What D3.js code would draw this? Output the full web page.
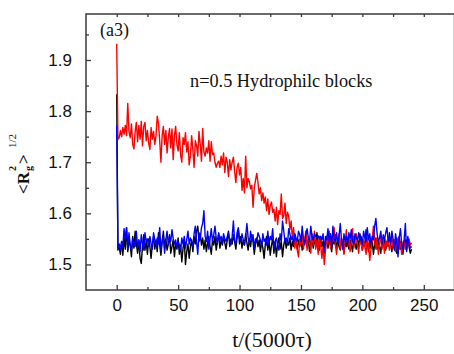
<!DOCTYPE html>
<html>
<head>
<meta charset="utf-8">
<script src="https://cdn.jsdelivr.net/npm/d3@7"></script>
<style>
  html, body { margin: 0; padding: 0; background: #fff; }
  svg { display: block; }
</style>
</head>
<body>
<svg id="chart" width="454" height="354"></svg>
<script>
// ---------- data (t = index, step 1 in units of 5000 tau) ----------
const xTicks = [0, 50, 100, 150, 200, 250];
const yTicks = [1.5, 1.6, 1.7, 1.8, 1.9];
const seriesNames = ["black", "red", "blue"];

const blackValues = [
1.833,1.528,1.535,1.520,1.545,1.518,1.552,1.530,1.572,1.525,
1.548,1.538,1.515,1.555,1.532,1.565,1.540,1.522,1.548,1.512,
1.502,1.535,1.558,1.528,1.545,1.520,1.550,1.535,1.512,1.540,
1.555,1.530,1.548,1.525,1.562,1.538,1.518,1.545,1.565,1.532,
1.550,1.528,1.540,1.558,1.522,1.535,1.548,1.515,1.542,1.530,
1.552,1.520,1.538,1.505,1.532,1.548,1.500,1.525,1.540,1.512,
1.535,1.548,1.525,1.555,1.540,1.565,1.575,1.545,1.560,1.538,
1.552,1.530,1.548,1.525,1.542,1.555,1.535,1.520,1.548,1.538,
1.555,1.528,1.545,1.560,1.532,1.548,1.538,1.555,1.542,1.530,
1.548,1.565,1.535,1.550,1.540,1.558,1.545,1.530,1.552,1.568,
1.540,1.555,1.532,1.548,1.538,1.560,1.542,1.528,1.550,1.535,
1.558,1.545,1.520,1.540,1.552,1.535,1.548,1.525,1.545,1.532,
1.512,1.540,1.555,1.528,1.545,1.518,1.538,1.550,1.522,1.545,
1.515,1.540,1.552,1.530,1.545,1.515,1.538,1.550,1.532,1.545,
1.538,1.552,1.528,1.545,1.535,1.558,1.540,1.530,1.548,1.535,
1.550,1.528,1.545,1.538,1.560,1.535,1.548,1.525,1.542,1.555,
1.532,1.548,1.538,1.562,1.540,1.528,1.550,1.535,1.545,1.522,
1.540,1.555,1.532,1.548,1.538,1.525,1.550,1.540,1.558,1.530,
1.545,1.535,1.528,1.550,1.540,1.522,1.545,1.535,1.552,1.530,
1.548,1.538,1.525,1.555,1.540,1.530,1.548,1.535,1.560,1.542,
1.528,1.545,1.535,1.568,1.540,1.525,1.548,1.532,1.545,1.520,
1.540,1.552,1.530,1.545,1.535,1.522,1.548,1.538,1.552,1.528,
1.545,1.535,1.562,1.540,1.525,1.548,1.535,1.545,1.522,1.540,
1.555,1.530,1.545,1.520,1.538,1.548,1.528,1.545,1.535,1.522,
1.530];

const redValues = [
1.932,1.745,1.748,1.762,1.750,1.768,1.755,1.772,1.752,1.815,
1.760,1.748,1.775,1.735,1.726,1.760,1.778,1.740,1.772,1.745,
1.780,1.732,1.770,1.778,1.742,1.762,1.738,1.725,1.768,1.745,
1.760,1.735,1.752,1.790,1.776,1.742,1.700,1.752,1.770,1.735,
1.762,1.718,1.748,1.766,1.728,1.765,1.705,1.752,1.770,1.735,
1.722,1.758,1.715,1.700,1.748,1.735,1.758,1.720,1.740,1.695,
1.712,1.752,1.725,1.690,1.742,1.732,1.712,1.760,1.735,1.702,
1.766,1.720,1.712,1.728,1.718,1.742,1.702,1.740,1.715,1.718,
1.700,1.690,1.698,1.702,1.690,1.712,1.695,1.718,1.680,1.710,
1.700,1.672,1.705,1.685,1.700,1.710,1.682,1.660,1.690,1.698,
1.675,1.690,1.645,1.668,1.640,1.712,1.650,1.668,1.662,1.648,
1.655,1.612,1.650,1.665,1.678,1.660,1.638,1.650,1.625,1.640,
1.620,1.632,1.605,1.628,1.598,1.615,1.622,1.602,1.608,1.585,
1.612,1.578,1.605,1.598,1.638,1.590,1.595,1.620,1.580,1.602,
1.595,1.568,1.585,1.550,1.572,1.532,1.548,1.528,1.515,1.550,
1.538,1.562,1.530,1.548,1.565,1.528,1.555,1.545,1.522,1.560,
1.538,1.565,1.530,1.548,1.520,1.555,1.540,1.512,1.535,1.500,
1.528,1.548,1.540,1.565,1.532,1.555,1.545,1.572,1.538,1.520,
1.548,1.560,1.530,1.552,1.540,1.520,1.545,1.568,1.535,1.550,
1.525,1.548,1.570,1.532,1.545,1.560,1.538,1.522,1.552,1.540,
1.528,1.548,1.535,1.520,1.552,1.538,1.508,1.530,1.548,1.575,
1.545,1.530,1.552,1.520,1.540,1.555,1.530,1.545,1.522,1.548,
1.535,1.550,1.528,1.540,1.555,1.532,1.548,1.525,1.540,1.552,
1.530,1.545,1.520,1.538,1.548,1.530,1.545,1.535,1.550,1.538,
1.542];

const blueValues = [
1.772,1.532,1.540,1.528,1.545,1.535,1.570,1.548,1.572,1.530,
1.562,1.538,1.528,1.550,1.545,1.535,1.565,1.532,1.548,1.525,
1.558,1.540,1.528,1.562,1.545,1.550,1.535,1.555,1.540,1.530,
1.562,1.548,1.535,1.552,1.540,1.572,1.528,1.545,1.555,1.522,
1.548,1.565,1.538,1.555,1.545,1.568,1.550,1.540,1.548,1.532,
1.545,1.538,1.528,1.552,1.540,1.555,1.532,1.548,1.565,1.540,
1.552,1.545,1.535,1.560,1.575,1.545,1.520,1.562,1.550,1.572,
1.580,1.605,1.555,1.545,1.565,1.530,1.550,1.570,1.545,1.558,
1.575,1.552,1.540,1.562,1.548,1.555,1.540,1.560,1.550,1.545,
1.555,1.562,1.548,1.538,1.555,1.585,1.545,1.540,1.562,1.572,
1.550,1.545,1.560,1.548,1.538,1.555,1.580,1.552,1.540,1.565,
1.545,1.558,1.530,1.550,1.545,1.562,1.555,1.548,1.535,1.560,
1.545,1.550,1.538,1.565,1.540,1.555,1.548,1.570,1.530,1.545,
1.552,1.538,1.528,1.560,1.545,1.585,1.565,1.545,1.552,1.538,
1.570,1.560,1.548,1.555,1.540,1.560,1.552,1.545,1.565,1.558,
1.545,1.575,1.550,1.540,1.560,1.570,1.552,1.545,1.575,1.555,
1.548,1.560,1.555,1.552,1.556,1.550,1.555,1.548,1.560,1.525,
1.555,1.548,1.570,1.545,1.560,1.535,1.575,1.550,1.545,1.562,
1.540,1.555,1.580,1.548,1.530,1.560,1.545,1.555,1.538,1.562,
1.550,1.568,1.545,1.540,1.560,1.552,1.548,1.562,1.545,1.555,
1.540,1.565,1.552,1.545,1.572,1.548,1.560,1.540,1.555,1.548,
1.575,1.590,1.560,1.545,1.552,1.565,1.540,1.558,1.548,1.562,
1.572,1.545,1.555,1.540,1.565,1.550,1.528,1.560,1.545,1.515,
1.552,1.570,1.540,1.530,1.548,1.580,1.525,1.555,1.540,1.532,
1.535];

// ---------- layout ----------
const svg = d3.select("#chart");
const L = 86, R = 454.5, T = 14, B = 290;
const x = d3.scaleLinear().domain([-25, 275]).range([L, R]);
const y = d3.scaleLinear().domain([1.45, 1.99]).range([B, T]);
const axisColor = "#3a3a3a";

// frame
svg.append("rect").attr("x", L).attr("y", T).attr("width", R - L).attr("height", B - T)
  .attr("fill", "none").attr("stroke", axisColor).attr("stroke-width", 1.5);

// data lines
const line = d3.line().x((d, i) => x(i)).y(d => y(d));
const seriesData = { black: blackValues, red: redValues, blue: blueValues };
const colors = { black: "#000000", red: "#ff0000", blue: "#0000ff" };
const plot = svg.append("g");
seriesNames.forEach(name => {
  plot.append("path").datum(seriesData[name]).attr("d", line)
    .attr("fill", "none").attr("stroke", colors[name]).attr("stroke-width", 1.4)
    .attr("stroke-linejoin", "round");
});

// axes
const xMinor = [25, 75, 125, 175, 225];
const yMinor = [1.55, 1.65, 1.75, 1.85, 1.95];

const gBottom = svg.append("g").attr("transform", `translate(0,${B})`)
  .call(d3.axisBottom(x).tickValues(xTicks).tickSize(-5).tickPadding(9).tickFormat(d3.format("d")));
const gBottomMinor = svg.append("g").attr("transform", `translate(0,${B})`)
  .call(d3.axisBottom(x).tickValues(xMinor).tickSize(-3).tickFormat(""));
const gTop = svg.append("g").attr("transform", `translate(0,${T})`)
  .call(d3.axisTop(x).tickValues(xTicks.concat(xMinor)).tickSize(-3).tickFormat(""));
const gLeft = svg.append("g").attr("transform", `translate(${L},0)`)
  .call(d3.axisLeft(y).tickValues(yTicks).tickSize(-5).tickPadding(14).tickFormat(d3.format(".1f")));
const gLeftMinor = svg.append("g").attr("transform", `translate(${L},0)`)
  .call(d3.axisLeft(y).tickValues(yMinor).tickSize(-3).tickFormat(""));

[gBottom, gBottomMinor, gTop, gLeft, gLeftMinor].forEach(g => {
  g.select(".domain").remove();
  g.selectAll(".tick line").attr("stroke", axisColor).attr("stroke-width", 1.3);
  g.selectAll(".tick text").attr("fill", "#111").attr("font-family", "Liberation Sans, Arial, sans-serif")
    .attr("font-size", 17);
});

// annotations
svg.append("text").attr("x", 100).attr("y", 36).attr("font-family", "Liberation Serif, Times New Roman, serif")
  .attr("font-size", 18).attr("fill", "#111").text("(a3)");
svg.append("text").attr("x", 190).attr("y", 87).attr("font-family", "Liberation Serif, Times New Roman, serif")
  .attr("font-size", 18.3).attr("fill", "#111").text("n=0.5 Hydrophilc blocks");

// x title
svg.append("text").attr("x", 272).attr("y", 347).attr("text-anchor", "middle")
  .attr("font-family", "Liberation Serif, Times New Roman, serif").attr("font-size", 22).attr("fill", "#111")
  .text("t/(5000τ)");

// y title: <R_g^2>^{1/2}
const yt = svg.append("g").attr("transform", "translate(28.5,194) rotate(-90)")
  .attr("font-family", "Liberation Serif, Times New Roman, serif").attr("fill", "#111");
yt.append("text").attr("x", 0).attr("y", 0).attr("font-size", 17).attr("font-weight", "bold").text("<R");
yt.append("text").attr("x", 23).attr("y", -13).attr("font-size", 10).attr("font-weight", "bold").text("2");
yt.append("text").attr("x", 23).attr("y", 3).attr("font-size", 10).attr("font-weight", "bold").text("g");
yt.append("text").attr("x", 30).attr("y", 0).attr("font-size", 17).attr("font-weight", "bold").text(">");
yt.append("text").attr("x", 46).attr("y", -13).attr("font-size", 11).text("1/2");
</script>
</body>
</html>
